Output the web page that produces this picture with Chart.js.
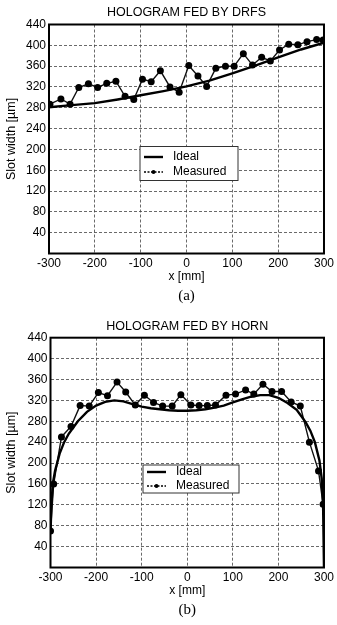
<!DOCTYPE html>
<html>
<head>
<meta charset="utf-8">
<script src="https://cdn.jsdelivr.net/npm/chart.js@4.4.0/dist/chart.umd.min.js"></script>
<style>
html, body { margin: 0; padding: 0; background: #fff; }
#wrap { position: relative; width: 337px; height: 625px; }
.panel { position: absolute; left: 0; width: 337px; height: 312px; }
</style>
</head>
<body>
<div id="wrap">
  <div class="panel" style="top:0"><canvas id="chartA" width="337" height="312"></canvas></div>
  <div class="panel" style="top:312px"><canvas id="chartB" width="337" height="312"></canvas></div>
</div>
<script>
// (a) hologram fed by DRFS
const drfsIdealX = [-300, -250, -200, -150, -100, -50, 0, 50, 100, 150, 200, 250, 300];
const drfsIdealY = [281, 285, 289, 296, 304, 312, 321, 332, 346, 361, 377, 392, 405];
const drfsMeasX = [-298, -274, -254, -235, -214, -194, -174, -154, -134, -115, -96, -77, -57, -36, -16,
                   5, 25, 44, 64, 85, 104, 124, 144, 164, 183, 203, 223, 243, 263, 284, 298];
const drfsMeasY = [287, 297, 287, 319, 326, 319, 327, 331, 302, 296, 335, 330, 351, 320, 310,
                   361, 341, 321, 356, 360, 360, 384, 362, 377, 370, 391, 402, 401, 407, 411, 410];

// (b) hologram fed by horn
const hornIdealX = [-300, -298, -295, -290, -280, -270, -260, -250, -240, -220, -200, -180, -160, -140, -120,
                    -100, -80, -60, -40, -20, 0, 20, 40, 60, 80, 100, 120, 140, 160, 180,
                    200, 220, 240, 250, 260, 270, 280, 290, 295, 298, 300];
const hornIdealY = [65, 120, 160, 185, 218, 240, 256, 268, 280, 298, 310, 317, 320, 318, 313,
                    308, 305, 303, 301, 300, 300, 301, 303, 306, 310, 316, 322, 327, 330, 330,
                    325, 315, 302, 290, 278, 262, 240, 205, 170, 120, 0];
const hornMeasX = [-300, -293, -276, -255, -235, -215, -195, -175, -154, -135, -114, -94, -74, -54, -33, -14,
                   8, 26, 44, 62, 85, 106, 128, 146, 166, 186, 207, 228, 248, 268, 288, 298];
const hornMeasY = [70, 160, 250, 270, 310, 309, 335, 329, 355, 336, 311, 330, 316, 309, 309, 331,
                   311, 310, 310, 311, 330, 332, 340, 332, 351, 337, 337, 317, 309, 240, 185, 121];

const yTickStep = 40;
const xTickStep = 100;

const sans = '"Liberation Sans", Arial, Helvetica, sans-serif';

const decor = {
  id: 'decor',
  afterDraw(chart, args, o) {
    const ctx = chart.ctx;
    const a = chart.chartArea;
    const cx = (a.left + a.right) / 2;
    ctx.save();
    // plot frame
    ctx.strokeStyle = '#000';
    ctx.lineWidth = 2;
    ctx.strokeRect(a.left, a.top, a.right - a.left, a.bottom - a.top);

    ctx.fillStyle = '#000';
    ctx.textAlign = 'center';
    ctx.textBaseline = 'middle';
    ctx.font = '12.5px ' + sans;
    ctx.fillText(o.title, cx, a.top - 11.5);
    ctx.font = '12px ' + sans;
    ctx.fillText('x [mm]', cx, a.bottom + 23);
    ctx.save();
    ctx.translate(12, (a.top + a.bottom) / 2);
    ctx.rotate(-Math.PI / 2);
    ctx.font = '12.5px ' + sans;
    ctx.fillText('Slot width [\u00b5m]', 0, 0);
    ctx.restore();
    ctx.font = '15px "Liberation Serif", "Times New Roman", serif';
    ctx.fillText(o.caption, cx, a.bottom + 42.5);

    // legend
    const L = o.legend;
    const lx = a.left + L.dx, ly = a.top + L.dy;
    ctx.fillStyle = '#fff';
    ctx.fillRect(lx, ly, L.w, L.h);
    ctx.strokeStyle = '#333';
    ctx.lineWidth = 1;
    ctx.strokeRect(lx, ly, L.w, L.h);
    const r1 = ly + L.row1, r2 = ly + L.row2;
    ctx.strokeStyle = '#000';
    ctx.lineWidth = 2.4;
    ctx.beginPath(); ctx.moveTo(lx + 4, r1); ctx.lineTo(lx + 23, r1); ctx.stroke();
    ctx.lineWidth = 1.3;
    ctx.setLineDash([2, 1.5]);
    ctx.beginPath(); ctx.moveTo(lx + 4, r2); ctx.lineTo(lx + 23, r2); ctx.stroke();
    ctx.setLineDash([]);
    ctx.fillStyle = '#000';
    ctx.beginPath(); ctx.arc(lx + 13.5, r2, 2, 0, Math.PI * 2); ctx.fill();
    ctx.textAlign = 'left';
    ctx.font = '12px ' + sans;
    ctx.fillText('Ideal', lx + 33, r1);
    ctx.fillText('Measured', lx + 33, r2);
    ctx.restore();
  }
};

function points(xs, ys) {
  return xs.map((x, i) => ({ x: x, y: ys[i] }));
}

function makeChart(id, idealX, idealY, measX, measY, deco) {
  return new Chart(document.getElementById(id), {
    type: 'line',
    data: {
      datasets: [
        {
          label: 'Ideal',
          data: points(idealX, idealY),
          borderColor: '#000',
          borderWidth: 2.4,
          pointRadius: 0,
          tension: 0
        },
        {
          label: 'Measured',
          data: points(measX, measY),
          borderColor: '#111',
          borderWidth: 1.4,
          pointRadius: 3.5,
          pointBackgroundColor: '#000',
          pointBorderWidth: 0,
          tension: 0
        }
      ]
    },
    options: {
      responsive: false,
      animation: false,
      devicePixelRatio: 1,
      layout: { padding: deco.padding },
      plugins: {
        legend: { display: false },
        tooltip: { enabled: false },
        decor: deco
      },
      scales: {
        x: {
          type: 'linear',
          min: -300,
          max: 300,
          afterFit: s => { s.height = 34; },
          ticks: {
            stepSize: xTickStep,
            autoSkip: false,
            maxRotation: 0,
            padding: 3,
            color: '#000',
            font: { family: sans, size: 12 }
          },
          grid: { drawTicks: false, color: '#444', lineWidth: 0.8 },
          border: { display: false, dash: [3, 2] }
        },
        y: {
          min: 0,
          max: 440,
          afterFit: s => { s.width = deco.yWidth; },
          ticks: {
            stepSize: yTickStep,
            autoSkip: false,
            padding: 3,
            color: '#000',
            font: { family: sans, size: 12 },
            callback: v => (v === 0 ? '' : v)
          },
          grid: { drawTicks: false, color: '#444', lineWidth: 0.8 },
          border: { display: false, dash: [3, 2] }
        }
      }
    },
    plugins: [decor]
  });
}

makeChart('chartA', drfsIdealX, drfsIdealY, drfsMeasX, drfsMeasY, {
  title: 'HOLOGRAM FED BY DRFS',
  caption: '(a)',
  yWidth: 49,
  padding: { top: 24.5, right: 13, bottom: 24.5, left: 0 },
  legend: { dx: 91, dy: 122, w: 98, h: 34, row1: 10.5, row2: 25.5 }
});

makeChart('chartB', hornIdealX, hornIdealY, hornMeasX, hornMeasY, {
  title: 'HOLOGRAM FED BY HORN',
  caption: '(b)',
  yWidth: 50.5,
  padding: { top: 25.7, right: 11.5, bottom: 22.5, left: 0 },
  legend: { dx: 92.5, dy: 127.3, w: 96, h: 28, row1: 7, row2: 21 }
});
</script>
</body>
</html>
